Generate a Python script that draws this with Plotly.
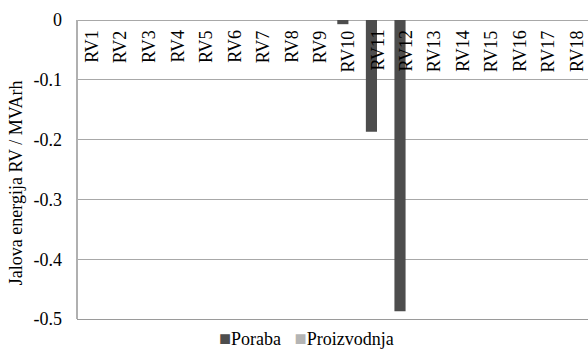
import plotly.graph_objects as go

# Reactive energy per bus (RV1..RV18), MVArh
categories = [f"RV{i}" for i in range(1, 19)]
poraba = [0, 0, 0, 0, 0, 0, 0, 0, 0, -0.007, -0.187, -0.487, 0, 0, 0, 0, 0, 0]
proizvodnja = [0] * 18
series_names = ["Poraba", "Proizvodnja"]
y_ticks = [0, -0.1, -0.2, -0.3, -0.4, -0.5]
y_tick_labels = ["0", "-0.1", "-0.2", "-0.3", "-0.4", "-0.5"]
y_title = "Jalova energija RV / MVArh"

FONT = "Liberation Serif, Times New Roman, serif"
C_PORABA = "#4d4d4d"
C_PROIZV = "#b4b4b4"
C_GRID = "#a8a8a8"
C_AXIS = "#b0b0b0"

fig = go.Figure()
fig.add_bar(x=categories, y=poraba, name=series_names[0],
            marker=dict(color=C_PORABA, line=dict(width=0)), showlegend=False)
fig.add_bar(x=categories, y=proizvodnja, name=series_names[1],
            marker=dict(color=C_PROIZV, line=dict(width=0)), showlegend=False)

# category labels sit just under the zero line, rotated
annotations = []
for c in categories:
    annotations.append(dict(x=c, y=0, xref="x", yref="y", text=c, textangle=-90,
                            showarrow=False, xanchor="center", yanchor="top",
                            yshift=-8, font=dict(family=FONT, size=18, color="black")))

# axis title
annotations.append(dict(x=-0.119, y=0.455, xref="paper", yref="paper", text=y_title,
                        textangle=-90, showarrow=False, xanchor="center", yanchor="middle",
                        font=dict(family=FONT, size=18, color="black")))

# legend line below the plot
legend_text = (f'<span style="color:{C_PORABA};font-size:20px">■</span>{series_names[0]}'
               f'&nbsp;&nbsp;&nbsp;'
               f'<span style="color:{C_PROIZV};font-size:20px">■</span>{series_names[1]}')
annotations.append(dict(x=0.449, y=-0.062, xref="paper", yref="paper", text=legend_text,
                        showarrow=False, xanchor="center", yanchor="middle",
                        font=dict(family=FONT, size=18, color="black")))

# vertical value-axis line along the left edge of the plot area
shapes = [dict(type="line", xref="paper", yref="paper", x0=0, x1=0, y0=0, y1=1,
               line=dict(color=C_AXIS, width=2), layer="above")]

fig.update_layout(
    width=588, height=349,
    margin=dict(l=77, r=0, t=20, b=30),
    paper_bgcolor="white", plot_bgcolor="white",
    barmode="group", bargap=0.22, bargroupgap=0,
    font=dict(family=FONT, size=18, color="black"),
    annotations=annotations,
    shapes=shapes,
    showlegend=False,
)
fig.update_xaxes(type="category", range=[-0.5, 17.385], showticklabels=False,
                 showgrid=False, zeroline=False, ticks="",
                 showline=True, linecolor="#9a9a9a", linewidth=1)
fig.update_yaxes(range=[-0.5, 0], tickvals=y_ticks, ticktext=y_tick_labels,
                 showgrid=True, gridcolor=C_GRID, gridwidth=1,
                 zeroline=True, zerolinecolor=C_GRID, zerolinewidth=1,
                 showline=False,
                 ticks="", ticklabelstandoff=14,
                 tickfont=dict(family=FONT, size=18, color="black"))

fig.write_html("out.html")
